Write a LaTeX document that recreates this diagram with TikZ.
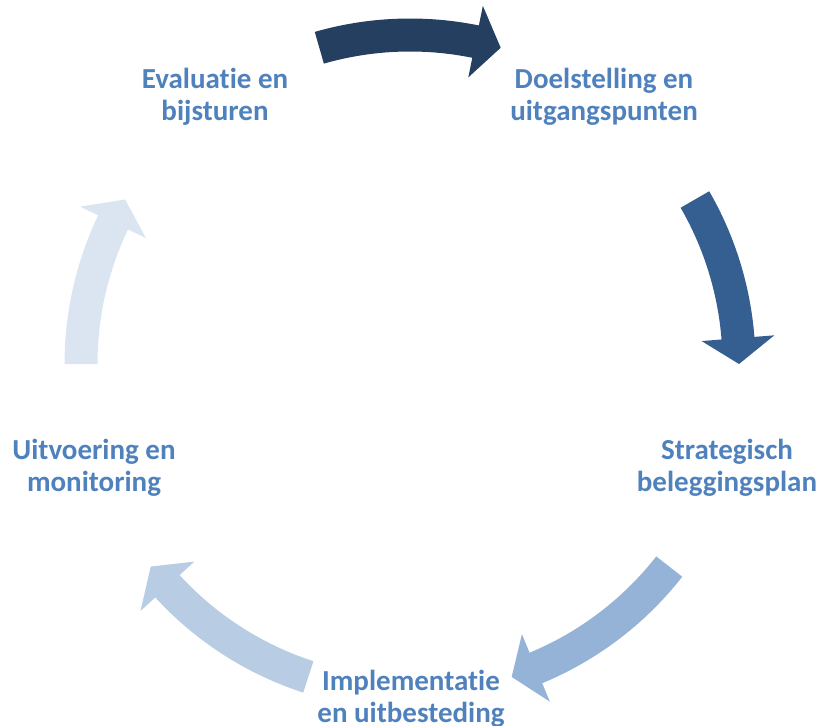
\documentclass[tikz,border=0pt]{standalone}
\usepackage{fontspec}
\setmainfont{Carlito}[Ligatures=NoCommon]
\definecolor{labelblue}{HTML}{4F81BD}
\definecolor{stepA}{HTML}{243F60}
\definecolor{stepB}{HTML}{365F91}
\definecolor{stepC}{HTML}{95B3D7}
\definecolor{stepD}{HTML}{B8CCE4}
\definecolor{stepE}{HTML}{DBE5F1}
% curved block arrow on the cycle: #1 tail angle, #2 tip angle, #3 fill colour
\newcommand\cyclearrow[3]{%
  \pgfmathsetmacro\arrowheadbase{#2+4.5}%
  \fill[#3, shift={(C)}]
    (#1:345.5pt) arc[start angle=#1, end angle=\arrowheadbase, radius=345.5pt]
    -- (\arrowheadbase:365.5pt) -- (#2:329pt) -- (\arrowheadbase:292.5pt)
    -- (\arrowheadbase:312.5pt)
    arc[start angle=\arrowheadbase, end angle=#1, radius=312.5pt] -- cycle;
}
\begin{document}
\begin{tikzpicture}[x=1pt,y=1pt,
  lbl/.style={align=center, text=labelblue, inner sep=0pt,
    font=\bfseries\fontsize{29}{32}\selectfont}]
\useasboundingbox (0,0) rectangle (823,-726);
\coordinate (C) at (410,-364);

% arrows of the cycle, clockwise
\cyclearrow{106}{74}{stepA}
\cyclearrow{30}{0}{stepB}
\cyclearrow{-38}{-72}{stepC}
\cyclearrow{-108}{-142}{stepD}
\cyclearrow{-180}{-210}{stepE}

% steps
\node[lbl] (doel)  at (604,-97)  {Doelstelling en\\uitgangspunten};
\node[lbl] (strat) at (727,-468) {Strategisch\\beleggingsplan};
\node[lbl] (impl)  at (411,-699) {Implementatie\\en uitbesteding};
\node[lbl] (uitv)  at (94,-468)  {Uitvoering en\\monitoring};
\node[lbl] (eval)  at (215,-97)  {Evaluatie en\\bijsturen};
\end{tikzpicture}
\end{document}
